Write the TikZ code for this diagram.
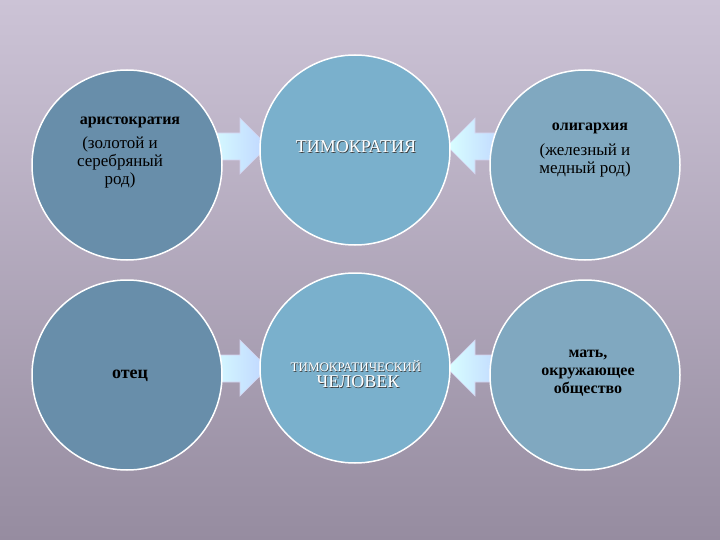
\documentclass[tikz,border=0pt]{standalone}
\usepackage{fontspec}
\setmainfont{Liberation Serif}
\begin{document}
\begin{tikzpicture}[x=1pt,y=-1pt,
 circ/.style={circle,draw=white,line width=1.5pt,minimum size=190pt,inner sep=0pt,align=center},
 arr/.style={draw=white!60!cyan!30!blue!20,line width=0.6pt,left color=cyan!15!white,right color=cyan!35!blue!25!white},
 bt/.style={font=\bfseries\fontsize{18}{19}\selectfont,align=center},
 nt/.style={font=\fontsize{17}{18}\selectfont,align=center},
 emb/.style={text=white,font=\fontsize{18}{19}\selectfont}]
\shade[top color={rgb,255:red,204;green,195;blue,214},bottom color={rgb,255:red,150;green,140;blue,160}] (0,0) rectangle (720,540);
\useasboundingbox (0,0) rectangle (720,540);
\definecolor{cL}{RGB}{104,142,170}
\definecolor{cM}{RGB}{122,176,204}
\definecolor{cR}{RGB}{128,168,192}
\path[arr] (205,133)--(240,133)--(240,118)--(268,146)--(240,174)--(240,160)--(205,160)--cycle;
\path[arr] (505,133)--(475,133)--(475,118)--(447,146)--(475,174)--(475,160)--(505,160)--cycle;
\path[arr] (205,355)--(240,355)--(240,340)--(268,368)--(240,396)--(240,382)--(205,382)--cycle;
\path[arr] (505,355)--(475,355)--(475,340)--(447,368)--(475,396)--(475,382)--(505,382)--cycle;
\node[circ,fill=cL] (a) at (127,165) {};
\node[circ,fill=cM] (b) at (355,150) {};
\node[circ,fill=cR] (c) at (585,165) {};
\node[circ,fill=cL] (d) at (127,375) {};
\node[circ,fill=cM] (e) at (355,368) {};
\node[circ,fill=cR] (f) at (585,375) {};
\node[bt,font=\bfseries\fontsize{16}{17}\selectfont] (t1) at (130,122) {аристократия};
\node[nt] (t2) at (120,162) {(золотой и\\серебряный\\род)};
\node[bt,font=\bfseries\fontsize{16}{17}\selectfont] (t3) at (590,128) {олигархия};
\node[nt] (t4) at (585,160) {(железный и\\медный род)};
\node[emb,text=black!75] at (356.8,147.8) {ТИМОКРАТИЯ};
\node[emb] (t5) at (356,147) {ТИМОКРАТИЯ};
\node[bt] (t6) at (130,376) {отец};
\node[bt,font=\bfseries\fontsize{16}{18}\selectfont] (t7) at (588,373) {мать,\\окружающее\\общество};
\node[emb,text=black!75,font=\fontsize{13}{14}\selectfont] at (356.6,366.6) {ТИМОКРАТИЧЕСКИЙ};
\node[emb,font=\fontsize{13}{14}\selectfont] (t8) at (356,366) {ТИМОКРАТИЧЕСКИЙ};
\node[emb,text=black!75] at (358.8,382.8) {ЧЕЛОВЕК};
\node[emb] (t9) at (358,382) {ЧЕЛОВЕК};
\end{tikzpicture}
\end{document}
